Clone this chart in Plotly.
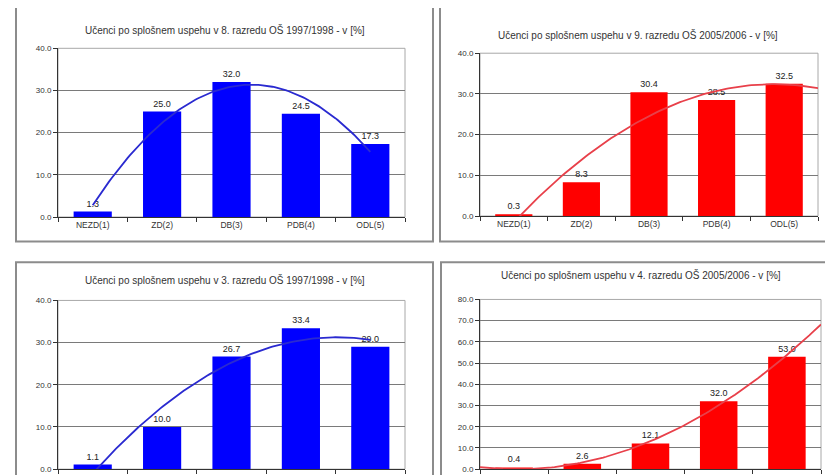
import numpy as np
import plotly.graph_objects as go

W, H = 833, 475

categories = ["NEZD(1)", "ZD(2)", "DB(3)", "PDB(4)", "ODL(5)"]
x_pos = [1, 2, 3, 4, 5]

titles = [
    "Učenci po splošnem uspehu v 8. razredu OŠ 1997/1998 - v [%]",
    "Učenci po splošnem uspehu v 9. razredu OŠ 2005/2006 - v [%]",
    "Učenci po splošnem uspehu v 3. razredu OŠ 1997/1998 - v [%]",
    "Učenci po splošnem uspehu v 4. razredu OŠ 2005/2006 - v [%]",
]
vals_8_1997 = [1.3, 25.0, 32.0, 24.5, 17.3]
vals_9_2005 = [0.3, 8.3, 30.4, 28.5, 32.5]
vals_3_1997 = [1.1, 10.0, 26.7, 33.4, 29.0]
vals_4_2005 = [0.4, 2.6, 12.1, 32.0, 53.0]
series = [vals_8_1997, vals_9_2005, vals_3_1997, vals_4_2005]
y_max = [40, 40, 40, 80]

BLUE = "#0000ff"
RED = "#ff0000"
bar_colors = [BLUE, RED, BLUE, RED]
trend_colors = ["#2a2ad0", "#e8404a", "#2a2ad0", "#e8404a"]
# trendline (Excel polynomial, order 2) drawn over this x extent
trend_extent = [(1, 5), (1, 5.5), (1, 5), (0.5, 5.5)]
show_cat_labels = [True, True, False, False]  # bottom row labels fall outside the picture

# pixel layout of plot areas: (left, right, top, bottom)
plot_px = [(50, 397, 37, 209), (472, 810, 42, 208), (50, 397, 294, 466), (472, 813, 293, 466)]
title_px = [(217, 18), (630, 23), (217, 273), (633, 268)]
panel_px = [(8, 425, -20, 234), (432, 860, -20, 234), (8, 425, 255, 500), (433, 860, 255, 500)]

FONT = "Liberation Sans, Arial, sans-serif"
fig = go.Figure()
layout = dict(
    width=W, height=H, margin=dict(l=0, r=0, t=0, b=0),
    paper_bgcolor="white", plot_bgcolor="white", showlegend=False,
    font=dict(family=FONT, size=8, color="#222"),
    shapes=[], annotations=[],
)

for i in range(4):
    n = "" if i == 0 else str(i + 1)
    xa, ya = "x" + n, "y" + n
    vals = series[i]
    fig.add_trace(go.Bar(
        x=x_pos, y=vals, xaxis=xa, yaxis=ya, width=0.55,
        marker=dict(color=bar_colors[i], line=dict(width=0)),
        text=[f"{v:.1f}" for v in vals], textposition="outside",
        textfont=dict(size=9, color="#222", family=FONT), cliponaxis=False,
    ))
    coef = np.polyfit(x_pos, vals, 2)
    xs = np.linspace(trend_extent[i][0], trend_extent[i][1], 120)
    fig.add_trace(go.Scatter(
        x=xs, y=np.polyval(coef, xs), mode="lines", xaxis=xa, yaxis=ya,
        line=dict(color=trend_colors[i], width=1.8), hoverinfo="skip",
    ))
    l, r, t, b = plot_px[i]
    layout["xaxis" + n] = dict(
        domain=[l / W, r / W], anchor=ya, range=[0.5, 5.5],
        tickmode="array", tickvals=x_pos, ticktext=categories, ticks="",
        showticklabels=show_cat_labels[i],
        showgrid=False, zeroline=False, showline=True, linecolor="#333", linewidth=1,
        tickfont=dict(size=8.5, color="#333"),
        minor=dict(tickmode="array", tickvals=[0.5, 1.5, 2.5, 3.5, 4.5, 5.5],
                   ticks="outside", ticklen=4, tickcolor="#333", showgrid=False),
        fixedrange=True,
    )
    layout["yaxis" + n] = dict(
        domain=[1 - b / H, 1 - t / H], anchor=xa, range=[0, y_max[i]],
        dtick=10, tickformat=".1f", ticks="outside", ticklen=4, tickcolor="#333",
        showgrid=True, gridcolor="#7a7a7a", gridwidth=1, zeroline=False,
        showline=True, linecolor="#333", linewidth=1,
        tickfont=dict(size=8, color="#333"), fixedrange=True,
    )
    # plot area border (gray)
    layout["shapes"].append(dict(
        type="rect", xref="paper", yref="paper", x0=l / W, x1=r / W, y0=1 - b / H, y1=1 - t / H,
        line=dict(color="#a8a8a8", width=1), layer="below"))
    # chart area border
    pl, pr, pt, pb = panel_px[i]
    layout["shapes"].append(dict(
        type="rect", xref="paper", yref="paper", x0=pl / W, x1=pr / W, y0=1 - pb / H, y1=1 - pt / H,
        line=dict(color="#8c8c8c", width=2), layer="below"))
    tx, ty = title_px[i]
    layout["annotations"].append(dict(
        text=titles[i], xref="paper", yref="paper", x=tx / W, y=1 - ty / H,
        xanchor="center", yanchor="middle", showarrow=False,
        font=dict(size=10, color="#333", family=FONT)))

fig.update_layout(**layout)
fig.write_html("out.html")
